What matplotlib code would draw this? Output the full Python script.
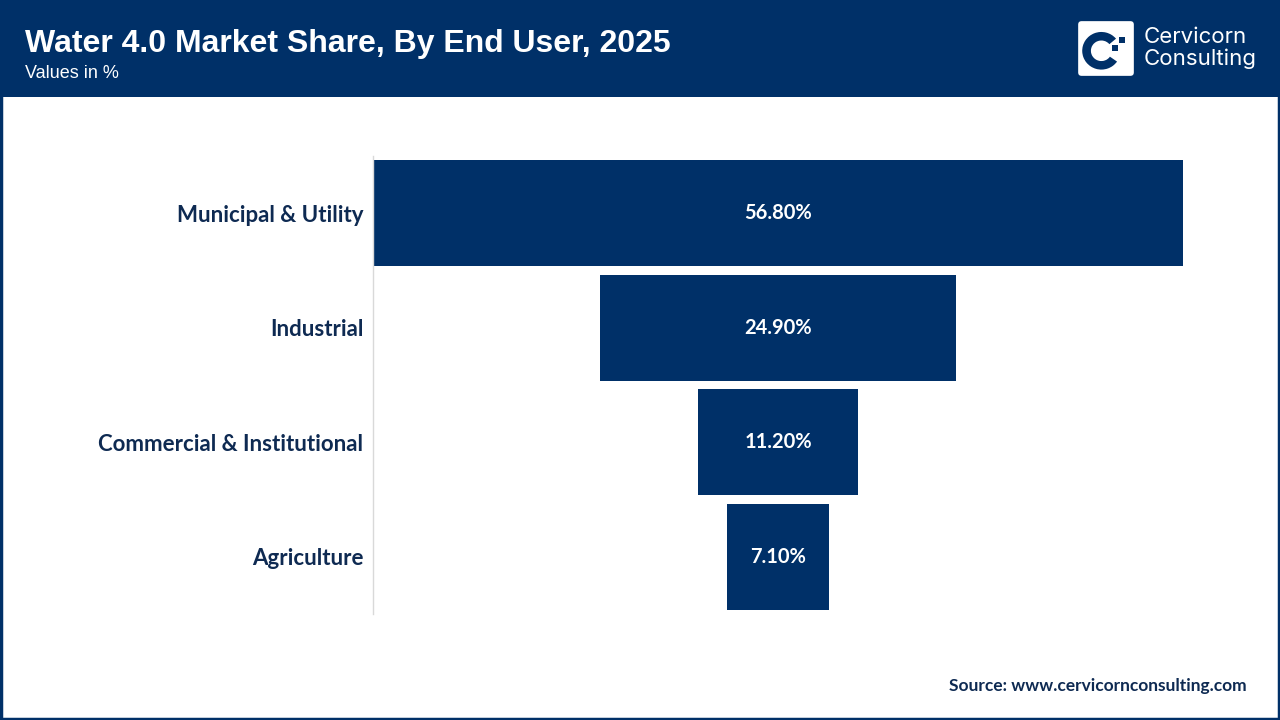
import matplotlib.pyplot as plt
from matplotlib.patches import Rectangle, FancyBboxPatch, Wedge

# chart data
categories = ['Municipal & Utility', 'Industrial', 'Commercial & Institutional', 'Agriculture']
shares = [56.8, 24.9, 11.2, 7.1]
value_labels = ['56.80%', '24.90%', '11.20%', '7.10%']

navy = '#003068'
text_navy = '#0e2a52'

fig = plt.figure(figsize=(12.8, 7.2), dpi=100)
fig.patch.set_facecolor('white')

# header band and frame
fig.add_artist(Rectangle((0, 1 - 97 / 720), 1, 97 / 720, transform=fig.transFigure,
                         facecolor=navy, edgecolor='none', zorder=0))
fig.add_artist(Rectangle((0.001, 0.002), 0.998, 0.996, transform=fig.transFigure,
                         facecolor='none', edgecolor=navy, linewidth=2.5, zorder=5))

fig.text(25 / 1280, 1 - 44 / 720, 'Water 4.0 Market Share, By End User, 2025',
         color='white', fontsize=23, fontweight='bold', family='Liberation Sans', va='center')
fig.text(25 / 1280, 1 - 73 / 720, 'Values in %', color='white', fontsize=13,
         family='Liberation Sans', va='center')

# logo
lax = fig.add_axes([1077 / 1280, 1 - 77 / 720, 58 / 1280, 57 / 720], zorder=3)
lax.set_xlim(0, 1)
lax.set_ylim(0, 1)
lax.axis('off')
lax.add_patch(FancyBboxPatch((0.02, 0.02), 0.96, 0.96, boxstyle='round,pad=0,rounding_size=0.06',
                             facecolor='white', edgecolor='none'))
lax.add_patch(Wedge((0.42, 0.46), 0.33, 40, 325, width=0.15, facecolor=navy))
lax.add_patch(Rectangle((0.6, 0.46), 0.11, 0.11, facecolor=navy))
lax.add_patch(Rectangle((0.72, 0.6), 0.11, 0.11, facecolor=navy))
fig.text(1144 / 1280, 1 - 37 / 720, 'Cervicorn', color='white', fontsize=16,
         family='Inter', va='center')
fig.text(1144 / 1280, 1 - 59 / 720, 'Consulting', color='white', fontsize=16,
         family='Inter', va='center')

# funnel as centred horizontal bars
ax = fig.add_axes([373 / 1280, 1 - 614 / 720, 810 / 1280, 458 / 720])
top = max(shares)
lefts = [(top - v) / 2 for v in shares]
ypos = list(range(len(categories)))
ax.barh(ypos, shares, left=lefts, height=0.93, color=navy)
for y, l, v, lab in zip(ypos, lefts, shares, value_labels):
    ax.text(l + v / 2, y, lab, color='white', fontsize=14.5, fontweight='bold',
            family='Lato', ha='center', va='center')

ax.set_xlim(0, top)
ax.set_ylim(len(categories) - 0.5, -0.5)
ax.set_yticks(ypos)
ax.set_yticklabels(categories, fontsize=16, fontweight='bold', family='Lato', color=text_navy)
ax.tick_params(axis='y', length=0, pad=7)
ax.set_xticks([])
for s in ['top', 'right', 'bottom']:
    ax.spines[s].set_visible(False)
ax.spines['left'].set_color('#d9d9d9')
ax.spines['left'].set_linewidth(1)

fig.text(1247 / 1280, 1 - 686 / 720, 'Source: www.cervicornconsulting.com', color=text_navy,
         fontsize=12.5, fontweight='bold', family='Lato', ha='right', va='center')

fig.savefig('out.png', dpi=100, facecolor='white')
